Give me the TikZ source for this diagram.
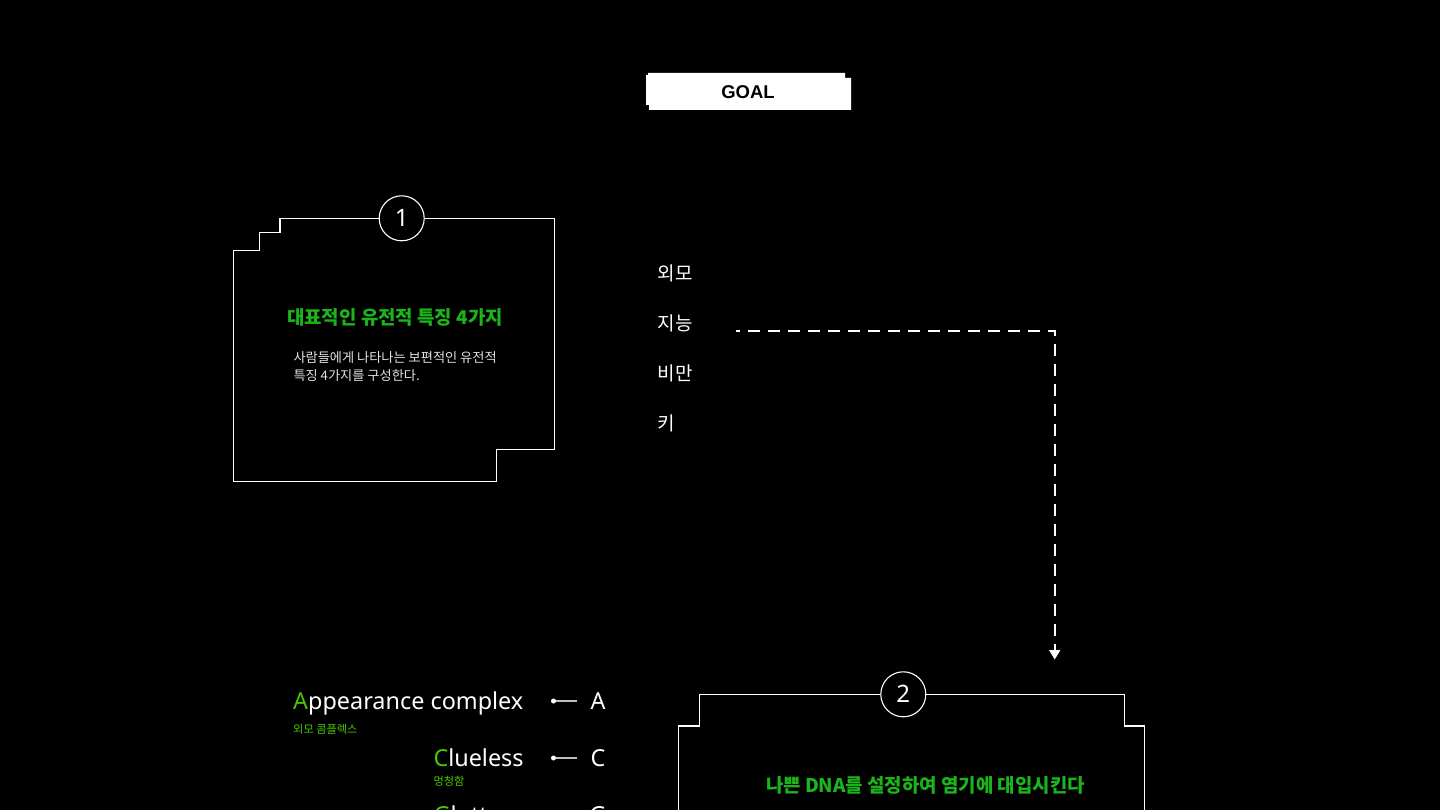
\documentclass[tikz,border=0pt]{standalone}
\usepackage{fontspec}
\setmainfont{Noto Sans}
\newfontfamily\kr{Noto Sans CJK KR}
\newfontfamily\goalfont{Liberation Sans}
\usetikzlibrary{arrows.meta}
\definecolor{tgreen}{RGB}{28,180,28}
\definecolor{lgreen}{RGB}{72,200,0}
\definecolor{bodygray}{RGB}{225,225,225}
\begin{document}
\begin{tikzpicture}[x=1pt,y=-1pt,
  frame/.style={draw=white, line width=1.2pt},
  numcirc/.style={circle, draw=white, fill=black, line width=1.1pt, minimum size=45pt, inner sep=0pt, text=white, font=\fontsize{24}{24}\selectfont},
  krword/.style={anchor=west, inner sep=0pt, text=white, font=\kr\fontsize{19}{22}\selectfont},
  titletext/.style={inner sep=0pt, text=tgreen, font=\kr\bfseries\fontsize{18.9}{22}\selectfont},
  bodytext/.style={anchor=west, inner sep=0pt, text=bodygray, font=\kr\fontsize{13.2}{15}\selectfont},
  bigword/.style={anchor=base west, inner sep=0pt, text=white, font=\fontsize{23.4}{26}\selectfont},
  subword/.style={anchor=west, inner sep=0pt, text=lgreen, font=\kr\fontsize{11.2}{13}\selectfont},
  letter/.style={anchor=base, inner sep=0pt, text=white, font=\fontsize{23.4}{26}\selectfont},
  dotmark/.style={circle, fill=white, minimum size=5pt, inner sep=0pt},
  tick/.style={draw=white!75!black, line width=1.4pt},
  flow/.style={draw=white, line width=2pt, dash pattern=on 12pt off 8pt, dash phase=8pt}
]
\useasboundingbox (0,0) rectangle (1440,810);
\fill[black] (0,0) rectangle (1440,810);

% GOAL
\fill[white] (648,73) -- (845,73) -- (845,78) -- (851,78) -- (851,110) -- (649,110) -- (649,105) -- (646,105) -- (646,75) -- (648,75) -- cycle;
\node[inner sep=0pt, text=black, font=\goalfont\bfseries\fontsize{18.5}{20}\selectfont] (goal) at (748,92) {GOAL};

% Box 1
\draw[frame] (233.3,250.7) -- (259.7,250.7) -- (259.7,232.7) -- (280,232.7) -- (280,218.3) -- (554.7,218.3) -- (554.7,449.3) -- (496.7,449.3) -- (496.7,481.7) -- (233.3,481.7) -- cycle;
\node[numcirc] (c1) at (401.7,218.3) {1};
\node[titletext] (t1) at (395,317.5) {대표적인 유전적 특징 4가지};
\node[bodytext] (b1a) at (293.3,357.5) {사람들에게 나타나는 보편적인 유전적};
\node[bodytext] (b1b) at (293.3,375.8) {특징 4가지를 구성한다.};

% Trait words
\node[krword] (w1) at (657.5,273.3) {외모};
\node[krword] (w2) at (657.5,323.3) {지능};
\node[krword] (w3) at (657.5,373.3) {비만};
\node[krword] (w4) at (657.5,423.3) {키};

% Dashed connector
\coordinate (dstart) at (736,331);
\coordinate (dend) at (1054.7,659.5);
\draw[flow, -{Triangle[width=11pt,length=9.5pt]}] (dstart) -| (dend);

% Box 2
\draw[frame] (678.3,830) -- (678.3,726) -- (699.7,726) -- (699.7,694.3) -- (1124.7,694.3) -- (1124.7,726) -- (1144.3,726) -- (1144.3,830);
\node[numcirc] (c2) at (903.3,694.3) {2};
\node[titletext] (t2) at (925.5,785.8) {나쁜 DNA를 설정하여 염기에 대입시킨다};

% Left list
\node[bigword] (l1) at (293,709) {\textcolor{lgreen}{A}ppearance complex};
\node[subword] (s1) at (293,729.3) {외모 콤플렉스};
\node[bigword] (l2) at (433.3,766) {\textcolor{lgreen}{C}lueless};
\node[subword] (s2) at (433.3,781) {멍청함};
\node[bigword] (l3) at (433.3,823) {\textcolor{lgreen}{G}luttony};

\node[dotmark] (d1) at (553.5,701) {};
\coordinate (e1) at (577,701);
\draw[tick] (d1) -- (e1);
\node[letter] (r1) at (598,709) {A};

\node[dotmark] (d2) at (553.5,758) {};
\coordinate (e2) at (577,758);
\draw[tick] (d2) -- (e2);
\node[letter] (r2) at (598,766) {C};

\node[letter] (r3) at (598,823) {G};
\end{tikzpicture}
\end{document}
